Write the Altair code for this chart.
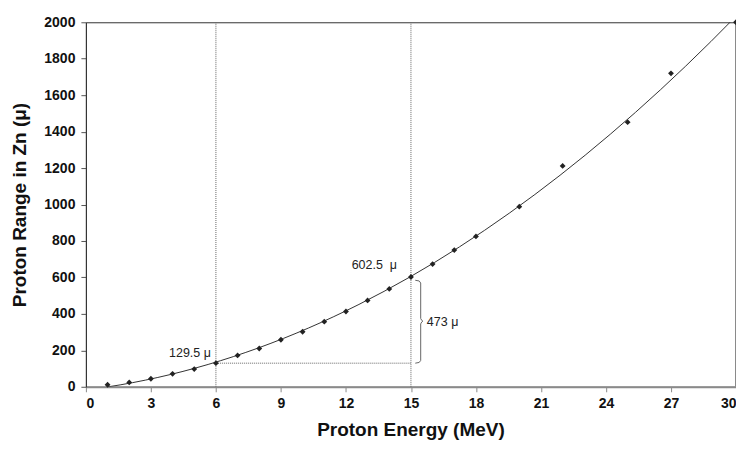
import altair as alt
import pandas as pd

# ---- data ----
energy = [1, 2, 3, 4, 5, 6, 7, 8, 9, 10, 11, 12, 13, 14, 15, 16, 17, 18, 20, 22, 25, 27, 30]
range_um = [11, 24, 44, 71, 97, 129.5, 172, 210, 258, 302, 357, 413, 474, 537, 602.5,
            673, 750, 825, 988, 1212, 1452, 1720, 2000]

marker_energy = [6, 15]
marker_range = [129.5, 602.5]
marker_labels = ["129.5 μ", "602.5 \u00a0μ"]
diff_label = "473 μ"

x_ticks = [0, 3, 6, 9, 12, 15, 18, 21, 24, 27, 30]
y_ticks = [0, 200, 400, 600, 800, 1000, 1200, 1400, 1600, 1800, 2000]

brace_dx = [0.2, 0.38, 0.45, 0.45, 0.5, 0.55, 0.5, 0.45, 0.45, 0.38, 0.2]
brace_dy = [-18, -22, -33, 15, 4, 0, -4, -15, 15, 4, 0]
brace_ref = ["hi", "hi", "hi", "mid", "mid", "mid", "mid", "mid", "lo", "lo", "lo"]

FONT = "Liberation Sans"
W, H = 651, 365

x_scale = alt.Scale(domain=[0, 30], nice=False, zero=False)
y_scale = alt.Scale(domain=[0, 2000], nice=False)


def X(field="energy"):
    return alt.X(f"{field}:Q", scale=x_scale,
                 axis=alt.Axis(values=x_ticks, title="Proton Energy (MeV)", format="d",
                               titleX=325, titleY=49, titleBaseline="alphabetic",
                               domainColor="#8a8a8a", domainWidth=2,
                               tickColor="#8a8a8a", tickSize=5, tickWidth=1,
                               labelPadding=5, grid=False,
                               labelFont=FONT, labelFontSize=14, labelFontWeight="bold",
                               labelColor="#111111",
                               titleFont=FONT, titleFontSize=19, titleFontWeight="bold",
                               titleColor="#111111"))


def Y(field="range"):
    return alt.Y(f"{field}:Q", scale=y_scale,
                 axis=alt.Axis(values=y_ticks, title="Proton Range in Zn (μ)", format="d",
                               titleX=-60, titleY=182.5, titleAngle=-90,
                               titleBaseline="alphabetic", titleAlign="center",
                               domainColor="#333333", domainWidth=1,
                               tickColor="#555555", tickSize=5, tickWidth=1,
                               labelPadding=6, grid=False,
                               labelFont=FONT, labelFontSize=14, labelFontWeight="bold",
                               labelColor="#111111",
                               titleFont=FONT, titleFontSize=19, titleFontWeight="bold",
                               titleColor="#111111"))


pts = pd.DataFrame({"energy": energy, "range": range_um})

trend = alt.Chart(pts).transform_regression(
    "energy", "range", method="poly", order=2
).mark_line(color="#333333", strokeWidth=1, clip=True).encode(x=X(), y=Y())

points = alt.Chart(pts).mark_point(
    shape="diamond", filled=True, size=34, color="#222222", opacity=1, clip=False
).encode(x=X(), y=Y())

vlines = alt.Chart(pd.DataFrame({"energy": marker_energy})).mark_rule(
    color="#666666", strokeWidth=1, strokeDash=[1, 1]
).encode(x=X())

hline = alt.Chart(pd.DataFrame({"energy": [marker_energy[0]], "energy2": [marker_energy[1]],
                                "range": [marker_range[0]]})).mark_rule(
    color="#666666", strokeWidth=1, strokeDash=[1, 1]
).encode(x=X(), x2="energy2:Q", y=Y())

right_border = alt.Chart(pd.DataFrame({"energy": [30]})).mark_rule(
    color="#8a8a8a", strokeWidth=2
).encode(x=X())

lo, hi = marker_range
mid = (lo + hi) / 2 - 6
anchors = {"lo": lo, "mid": mid, "hi": hi}
brace_df = pd.DataFrame({
    "energy": [marker_energy[1] + d for d in brace_dx],
    "range": [anchors[r] + dy for r, dy in zip(brace_ref, brace_dy)],
    "order": list(range(len(brace_dx))),
})
brace = alt.Chart(brace_df).mark_line(
    color="#666666", strokeWidth=1, interpolate="linear"
).encode(x=X(), y=Y(), order="order:Q")

lbl1 = alt.Chart(pd.DataFrame({"energy": [marker_energy[0]], "range": [marker_range[0]],
                               "label": [marker_labels[0]]})).mark_text(
    align="right", baseline="alphabetic", dx=-5, dy=-6, font=FONT, fontSize=12.5, color="#222222"
).encode(x=X(), y=Y(), text="label:N")

lbl2 = alt.Chart(pd.DataFrame({"energy": [marker_energy[1]], "range": [marker_range[1]],
                               "label": [marker_labels[1]]})).mark_text(
    align="right", baseline="alphabetic", dx=-14, dy=-8, font=FONT, fontSize=12.5, color="#222222"
).encode(x=X(), y=Y(), text="label:N")

lbl3 = alt.Chart(pd.DataFrame({"energy": [marker_energy[1] + 0.55], "range": [mid],
                               "label": [diff_label]})).mark_text(
    align="left", baseline="middle", dx=4, dy=1, font=FONT, fontSize=12.5, color="#222222"
).encode(x=X(), y=Y(), text="label:N")

chart = alt.layer(
    vlines, hline, right_border, brace, trend, points, lbl1, lbl2, lbl3
).properties(
    width=W, height=H,
    autosize=alt.AutoSizeParams(type="none"),
    padding={"left": 78, "top": 14, "right": 0, "bottom": 53},
    background="white",
).configure_view(
    stroke="#333333", strokeWidth=1
)

chart.save("out.html", embed_options={"renderer": "svg", "actions": False})
